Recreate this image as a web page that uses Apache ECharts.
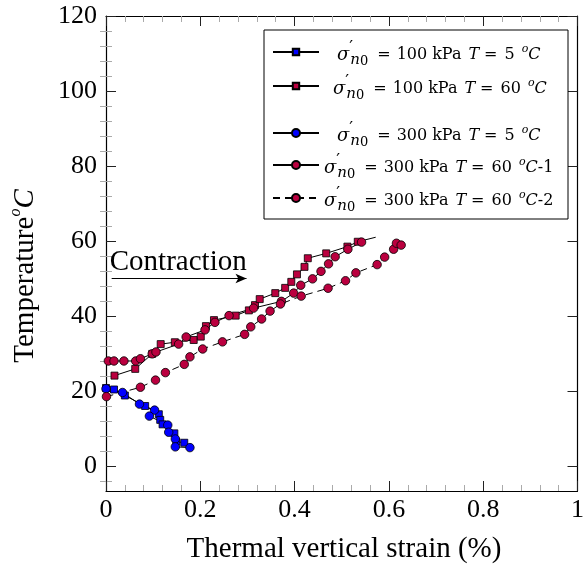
<!DOCTYPE html>
<html><head><meta charset="utf-8">
<script src="https://cdn.jsdelivr.net/npm/echarts@6/dist/echarts.min.js"></script>
<style>html,body{margin:0;padding:0;background:#fff}#c{width:587px;height:572px}</style>
</head><body><div id="c"></div>
<script>
// ---- data ----
const X_TICKS = [0, 0.2, 0.4, 0.6, 0.8, 1];
const Y_TICKS = [0, 20, 40, 60, 80, 100, 120];
const Y_MINOR = [-4, 4, 8, 12, 16, 24, 28, 32, 36, 44, 48, 52, 56, 64, 68, 72, 76, 84, 88, 92, 96, 104, 108, 112, 116];

const BLUE_SQ = [[0.0,20.8],[0.017,20.4],[0.040,18.8],[0.083,16.0],[0.112,13.8],[0.115,12.3],[0.120,11.1],[0.145,8.7],[0.149,6.5],[0.166,6.2]];
const RED_SQ = [[0.018,24.1],[0.062,25.9],[0.098,29.9],[0.116,32.5],[0.146,33.0],[0.186,33.6],[0.201,34.5],[0.212,37.3],[0.229,38.9],[0.275,40.1],[0.303,41.5],[0.316,42.9],[0.326,44.5],[0.359,46.1],[0.380,47.5],[0.393,49.1],[0.405,51.1],[0.421,53.1],[0.428,55.4],[0.467,56.7],[0.512,58.5],[0.534,59.8]];
const RED_SQ_TAIL = [[0.572,61.0]];
const BLUE_CI = [[0.0,20.6],[0.035,19.6],[0.071,16.5],[0.103,14.9],[0.092,13.3],[0.131,10.9],[0.133,9.0],[0.147,7.2],[0.147,5.1],[0.178,4.9]];
const RED_CI1 = [[0.005,28.0],[0.017,28.0],[0.038,28.0],[0.063,28.0],[0.073,28.6],[0.098,29.9],[0.106,30.4],[0.154,32.5],[0.170,34.4],[0.210,36.3],[0.231,38.3],[0.261,40.1],[0.313,42.1],[0.372,43.9],[0.398,46.1],[0.413,48.2],[0.438,49.9],[0.456,51.9],[0.472,53.9],[0.486,55.8],[0.513,57.8],[0.542,59.7]];
const RED_CI2 = [[0.001,18.5],[0.073,21.0],[0.105,22.9],[0.126,24.9],[0.166,27.1],[0.178,29.1],[0.205,31.2],[0.247,33.1],[0.294,35.1],[0.307,37.1],[0.330,39.2],[0.348,41.3],[0.370,43.2],[0.414,45.3],[0.471,47.4],[0.508,49.4],[0.530,51.5],[0.575,53.7],[0.591,55.7],[0.610,57.8],[0.616,59.4],[0.626,58.9]];
const ARROW_FROM = [0.012, 50];
const ARROW_TO = [0.298, 50];
const ARROW_TEXT = 'Contraction';
const ARROW_TEXT_AT = [0.008, 54.4];

const NAMES = ['s100_5', 's100_60', 's300_5', 's300_60_1', 's300_60_2'];
const SIG = '{g|σ}{p|′}{s|n}{z|0}{w9| }';
const LEG_TEXT = [
  '{w13| }' + SIG + '{m|=}{w6| }{m|100}{w5| }{m|kPa}{w7| }{i|T}{w5| }{m|=}{w7| }{m|5}{w7| }{o|o}{i|C}',
  '{w9| }'  + SIG + '{m|=}{w6| }{m|100}{w5| }{m|kPa}{w7| }{i|T}{w5| }{m|=}{w7| }{m|60}{w7| }{o|o}{i|C}',
  '{w13| }' + SIG + '{m|=}{w6| }{m|300}{w5| }{m|kPa}{w7| }{i|T}{w5| }{m|=}{w7| }{m|5}{w7| }{o|o}{i|C}',
  SIG + '{m|=}{w6| }{m|300}{w5| }{m|kPa}{w7| }{i|T}{w5| }{m|=}{w7| }{m|60}{w7| }{o|o}{i|C}{m|-1}',
  SIG + '{m|=}{w6| }{m|300}{w5| }{m|kPa}{w7| }{i|T}{w5| }{m|=}{w7| }{m|60}{w7| }{o|o}{i|C}{m|-2}'
];

// ---- styling ----
const SERIF = "'Liberation Serif', 'DejaVu Serif', serif";
const LSERIF = "'DejaVu Serif', serif";
const BLUE = '#0000FF';
const RED = '#BA003F';
const LEG_Y = [52, 86, 133, 165, 198];
const LH = 32;

const MPAD = [6, 0, 0, 0];
const RICH = {
  m: {fontFamily: LSERIF, fontSize: 16, color: '#000', lineHeight: LH, padding: MPAD},
  g: {fontFamily: LSERIF, fontSize: 18, fontStyle: 'italic', color: '#000', lineHeight: LH, padding: MPAD},
  i: {fontFamily: LSERIF, fontSize: 16, fontStyle: 'italic', color: '#000', lineHeight: LH, padding: MPAD},
  p: {fontFamily: LSERIF, fontSize: 17, color: '#000', verticalAlign: 'top', padding: [3, 0, 0, 0], width: 1, lineHeight: 10},
  s: {fontFamily: LSERIF, fontSize: 15, fontStyle: 'italic', color: '#000', verticalAlign: 'bottom', lineHeight: 10},
  z: {fontFamily: LSERIF, fontSize: 13, color: '#000', verticalAlign: 'bottom', lineHeight: 10},
  o: {fontFamily: LSERIF, fontSize: 11, fontStyle: 'italic', color: '#000', verticalAlign: 'top', padding: [8, 0, 0, 0], lineHeight: 10}
};
[5, 6, 7, 8, 9, 11, 13].forEach(w => { RICH['w' + w] = {width: w, fontSize: 10, lineHeight: 10}; });

const YMIN = -6.67, YMAX = 120;

function mk(name, data, sym, color, dashed, size) {
  return {
    type: 'line', name: name, data: data, symbol: sym, symbolSize: size,
    showSymbol: true, showAllSymbol: true,
    itemStyle: {color: color, borderColor: '#000', borderWidth: 0.8},
    lineStyle: {color: '#000', width: 1, type: dashed ? [7, 5] : 'solid'},
    emphasis: {disabled: true}, animation: false
  };
}

const series = [
  mk(NAMES[0], BLUE_SQ, 'rect', BLUE, false, 7),
  mk(NAMES[1], RED_SQ.concat(RED_SQ_TAIL.map(p => ({value: p, symbol: 'none'}))), 'rect', RED, false, 7),
  mk(NAMES[2], BLUE_CI, 'circle', BLUE, false, 8.5),
  mk(NAMES[3], RED_CI1, 'circle', RED, false, 8.5),
  mk(NAMES[4], RED_CI2, 'circle', RED, true, 8.5)
];
series[0].markLine = {
  silent: true, animation: false,
  symbol: ['none', 'arrow'], symbolSize: [7, 11],
  lineStyle: {color: '#000', type: 'solid', width: 1.2},
  label: {show: false},
  emphasis: {disabled: true},
  data: [[{coord: ARROW_FROM}, {coord: ARROW_TO}]]
};

const lineAx = {show: true, onZero: false, lineStyle: {color: '#000', width: 1.2}};
const xLab = v => (v === 0 ? '0' : v === 1 ? '1' : v.toFixed(1));

function xAx(pos, labels) {
  return {
    type: 'value', position: pos, min: 0, max: 1, interval: 0.2,
    axisLine: lineAx,
    axisTick: {show: true, inside: true, length: 10, lineStyle: {color: '#222', width: 1}},
    minorTick: {show: true, splitNumber: 5, length: 6, lineStyle: {color: '#aaa', width: 1}},
    axisLabel: {show: labels, margin: 6, fontFamily: SERIF, fontSize: 26, color: '#000', formatter: xLab, showMinLabel: true, showMaxLabel: true},
    splitLine: {show: false}, minorSplitLine: {show: false}
  };
}
function yAx(pos, major, labels) {
  return {
    type: 'value', position: pos, min: YMIN, max: YMAX,
    axisLine: major ? lineAx : {show: false},
    axisTick: major ? {show: true, inside: true, length: 10, customValues: Y_TICKS, lineStyle: {color: '#222', width: 1}}
                    : {show: true, inside: true, length: 6, customValues: Y_MINOR, lineStyle: {color: '#aaa', width: 1}},
    axisLabel: labels ? {show: true, customValues: Y_TICKS, margin: 9, fontFamily: SERIF, fontSize: 26, color: '#000'} : {show: false},
    splitLine: {show: false}
  };
}

const legends = NAMES.map((n, i) => ({
  show: true, data: [n], left: 272, top: LEG_Y[i] - LH / 2, padding: 0,
  itemWidth: 46, itemHeight: (i < 2 ? 8 : 10), itemGap: 0, selectedMode: false,
  formatter: () => LEG_TEXT[i],
  textStyle: {color: '#000', rich: RICH}, z: 10
}));

const chart = echarts.init(document.getElementById('c'), null, {renderer: 'canvas'});
chart.setOption({
  animation: false,
  backgroundColor: '#fff',
  grid: {left: 106, right: 4, top: 16, bottom: 81, containLabel: false},
  xAxis: [xAx('bottom', true), xAx('top', false)],
  yAxis: [yAx('left', true, true), yAx('left', false, false), yAx('right', true, false), yAx('right', false, false)],
  legend: legends,
  series: series
});
const tp = chart.convertToPixel({xAxisIndex: 0, yAxisIndex: 0}, ARROW_TEXT_AT);
chart.setOption({
  graphic: [
    {type: 'rect', z: 5, shape: {x: 264, y: 30, width: 304, height: 189}, style: {fill: '#fff', stroke: '#000', lineWidth: 1}},
    {type: 'text', z: 5, x: tp[0], y: tp[1], style: {text: ARROW_TEXT, fontFamily: SERIF, fontSize: 29, fill: '#000', align: 'left', verticalAlign: 'middle'}},
    {type: 'text', z: 5, x: 344, y: 549, style: {text: 'Thermal vertical strain (%)', fontFamily: SERIF, fontSize: 29, fill: '#000', align: 'center', verticalAlign: 'middle'}},
    {type: 'text', z: 5, x: 25, y: 276, rotation: Math.PI / 2,
     style: {text: '{t|Temperature}{o|o}{c|C}', align: 'center', verticalAlign: 'middle', fill: '#000',
       rich: {t: {fontFamily: SERIF, fontSize: 29, color: '#000', lineHeight: 32},
              o: {fontFamily: SERIF, fontSize: 16, fontStyle: 'italic', color: '#000', verticalAlign: 'top', lineHeight: 34},
              c: {fontFamily: SERIF, fontSize: 29, fontStyle: 'italic', color: '#000', lineHeight: 32}}}}
  ]
});
</script></body></html>
